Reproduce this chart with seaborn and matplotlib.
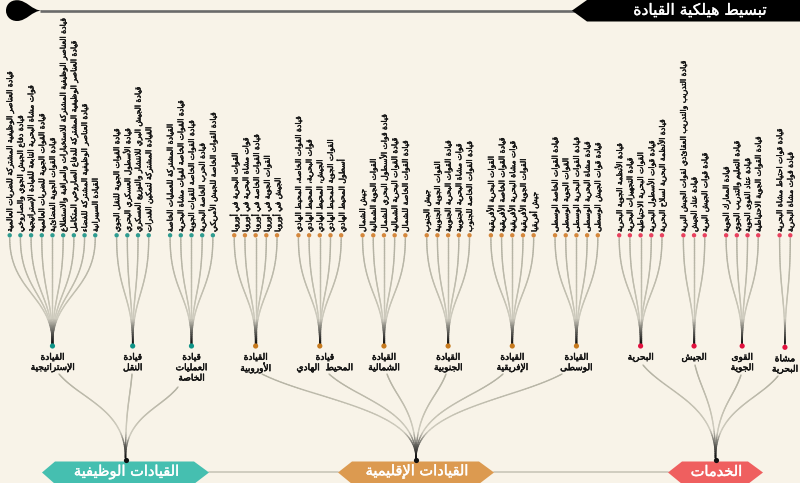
import numpy as np, pandas as pd
import matplotlib
matplotlib.use("Agg")
import matplotlib.pyplot as plt
import matplotlib.patheffects as pe
from matplotlib.collections import LineCollection
from matplotlib.colors import LinearSegmentedColormap
from matplotlib.patches import Polygon, PathPatch
from matplotlib.path import Path
import seaborn as sns

title = "تبسيط هيلكية القيادة"
branches = ["القيادات الوظيفية", "القيادات الإقليمية", "الخدمات"]
strategic = ["قيادة العناصر الوظيفية المشتركة للضربات العالمية", "قيادة دفاع الجيش الجوي والصاروخي",
             "قوات مشاة البحرية التابعة للقيادة الإستراتيجية", "قيادة القوات الجوية للضربات العالمية",
             "قيادة القوات الجوية الفضائية", "قيادة العناصر الوظيفية المشتركة للاستخبارات والمراقبة والاستطلاع",
             "قيادة العناصر الوظيفية المشتركة للدفاع الصاروخي المتكامل", "قيادة العناصر الوظيفية المشتركة للفضاء",
             "القيادة السيبرانية"]
transport = ["قيادة القوات الجوية للنقل الجوي", "قيادة الأسطول العسكري البحري",
             "قيادة الجيش البري للانتشار والتوزيع العسكري", "القيادة المشتركة لتمكين القدرات"]
special = ["القيادة المشتركة للعمليات الخاصة", "قيادة القوات الخاصة لقوات مشاة البحرية",
           "قيادة القوات الخاصة للقوات الجوية", "قيادة الحرب الخاصة البحرية", "قيادة القوات الخاصة للجيش الأمريكي"]
europe = ["القوات البحرية في أوروبا", "قوات مشاة البحرية في أوروبا", "قيادة القوات الخاصة في أوروبا",
          "القوات الجوية في أوروبا", "الجيش في أوروبا"]
pacific = ["قيادة القوات الخاصة، المحيط الهادي", "قوات البحرية، المحيط الهادي", "الجيش، المحيط الهادي",
           "القوات الجوية للمحيط الهادي", "أسطول المحيط الهادي"]
north = ["جيش الشمال", "القوات الجوية الشمالية", "قيادة قوات الأسطول البحري للشمال",
         "قيادة القوات البحرية الشمالية", "قيادة القوات الخاصة للشمال"]
south = ["جيش الجنوب", "القوات الجوية الجنوبية", "قيادة القوات البحرية الجنوبية",
         "قوات مشاة البحرية الجنوبية", "قيادة القوات الخاصة للجنوب"]
africa = ["القوات البحرية الأفريقية", "قيادة القوات الخاصة الأفريقية", "قوات مشاة البحرية الأفريقية",
          "القوات الجوية الأفريقية", "جيش أفريقيا"]
central = ["قيادة القوات الخاصة الوسطى", "القوات الجوية الوسطى", "قيادة القوات البحرية الوسطى",
           "قيادة مشاة البحرية الوسطى", "قيادة قوات الجيش الوسطى"]
navy = ["قيادة الأنظمة الجوية البحرية", "قيادة التجهيزات البحرية", "القوات البحرية الاحتياطية",
        "قيادة قوات الأسطول البحرية", "قيادة الأنظمة البحرية لسلاح البحرية"]
army = ["قيادة التدريب والتدريب العقائدي لقوات الجيش البرية", "قيادة عتاد الجيش", "قيادة قوات الجيش البرية"]
airforce = ["قيادة المعارك الجوية", "قيادة التعليم والتدريب الجوي", "قيادة عتاد القوى الجوية",
            "قيادة القوات الجوية الاحتياطية"]
marines = ["قيادة قوات احتياط مشاة البحرية", "قيادة قوات مشاة البحرية"]

groups = [
    ("القيادة\nالإستراتيجية", strategic, 0), ("قيادة\nالنقل", transport, 0), ("قيادة\nالعمليات\nالخاصة", special, 0),
    ("القيادة\nالأوروبية", europe, 1), ("قيادة\nالمحيط  الهادي", pacific, 1), ("القيادة\nالشمالية", north, 1),
    ("القيادة\nالجنوبية", south, 1), ("القيادة\nالإفريقية", africa, 1), ("القيادة\nالوسطى", central, 1),
    ("البحرية", navy, 2), ("الجيش", army, 2), ("القوى\nالجوية", airforce, 2), ("مشاة\nالبحرية", marines, 2),
]

# ---------- Arabic shaping (isolated, final, initial, medial) ----------
F = {'ء':(0xFE80,)*1, 'آ':(0xFE81,0xFE82), 'أ':(0xFE83,0xFE84), 'إ':(0xFE87,0xFE88), 'ا':(0xFE8D,0xFE8E),
     'ة':(0xFE93,0xFE94), 'د':(0xFEA9,0xFEAA), 'ذ':(0xFEAB,0xFEAC), 'ر':(0xFEAD,0xFEAE), 'ز':(0xFEAF,0xFEB0),
     'و':(0xFEED,0xFEEE), 'ى':(0xFEEF,0xFEF0)}
D = {'ب':0xFE8F,'ت':0xFE95,'ث':0xFE99,'ج':0xFE9D,'ح':0xFEA1,'خ':0xFEA5,'س':0xFEB1,'ش':0xFEB5,'ص':0xFEB9,
     'ض':0xFEBD,'ط':0xFEC1,'ظ':0xFEC5,'ع':0xFEC9,'غ':0xFECD,'ف':0xFED1,'ق':0xFED5,'ك':0xFED9,'ل':0xFEDD,
     'م':0xFEE1,'ن':0xFEE5,'ه':0xFEE9,'ي':0xFEF1}
LAM = {'ا':(0xFEFB,0xFEFC),'أ':(0xFEF7,0xFEF8),'إ':(0xFEF9,0xFEFA),'آ':(0xFEF5,0xFEF6)}

def shape(s):
    out, i = [], 0
    prev_joins = False
    while i < len(s):
        c = s[i]
        nxt = s[i + 1] if i + 1 < len(s) else ''
        if c == 'ل' and nxt in LAM:
            out.append(chr(LAM[nxt][1 if prev_joins else 0]))
            prev_joins = False
            i += 2
            continue
        if c in D:
            j = nxt in D or nxt in F and nxt != 'ء'
            base = D[c]
            out.append(chr(base + (3 if prev_joins and j else 1 if prev_joins else 2 if j else 0)))
            prev_joins = j
        elif c in F:
            forms = F[c]
            out.append(chr(forms[1] if prev_joins and len(forms) > 1 else forms[0]))
            prev_joins = False
        else:
            out.append(c)
            prev_joins = False
        i += 1
    return ''.join(reversed(out))

# ---------- style ----------
BG = "#f8f3e8"
DOT = ["#2f9c90", "#d4873c", "#e8415e"]
HEX = ["#45bfb0", "#dc9a50", "#ef5f5f"]
sns.set_theme(style="white", rc={"figure.facecolor": BG, "axes.facecolor": BG, "savefig.facecolor": BG})
plt.rcParams['font.family'] = ['DejaVu Sans']

fig, ax = plt.subplots(figsize=(8, 4.83), dpi=100)
ax.set_position([0, 0, 1, 1])
ax.set_xlim(0, 800); ax.set_ylim(483, 0); ax.axis("off")

def heavy(color, w):
    return [pe.withStroke(linewidth=w, foreground=color)]

def cubic(p0, p1, p2, p3, n=70):
    t = np.linspace(0, 1, n)[:, None]
    p0, p1, p2, p3 = map(np.array, (p0, p1, p2, p3))
    return (1-t)**3*p0 + 3*(1-t)**2*t*p1 + 3*(1-t)*t**2*p2 + t**3*p3

cmap = LinearSegmentedColormap.from_list("edge", [(0, "#b3b1a2"), (0.6, "#c4c1b2"), (0.8, "#cfccbf"), (1, "#151515")])

def draw_edge(pts, lw=1.0, z=2):
    segs = np.stack([pts[:-1], pts[1:]], axis=1)
    lc = LineCollection(segs, cmap=cmap, array=np.linspace(0, 1, len(segs)), linewidths=lw, zorder=z, capstyle="round")
    ax.add_collection(lc)

# ---------- layout from slots ----------
X0, PITCH = 9.7, 10.693
LEAF_Y, TOP_Y, GROUP_Y = 235.3, 238, 346
slot = 0
rows, grows = [], []
for name, leaves, br in groups:
    xs = X0 + PITCH * (slot + np.arange(len(leaves)))
    slot += len(leaves) + 1
    gx = xs.mean()
    grows.append((name, gx, br))
    for x, lab in zip(xs, leaves):
        rows.append((x, LEAF_Y, br))
        ax.text(x, 232, shape(lab), rotation=90, ha="center", va="bottom", fontsize=5.55,
                color="#111111", zorder=5, path_effects=heavy("#111111", 0.3))
        dy = GROUP_Y - 2 - TOP_Y
        draw_edge(cubic((x, TOP_Y), (x, TOP_Y + 0.50*dy), (gx, TOP_Y + 0.55*dy), (gx, GROUP_Y - 2)))

leaf_df = pd.DataFrame(rows, columns=["x", "y", "branch"])
group_df = pd.DataFrame([(g[1], GROUP_Y + (1.3 if g[0].startswith("مشاة") else 0), g[2]) for g in grows],
                        columns=["x", "y", "branch"])
pal = dict(enumerate(DOT))
sns.scatterplot(data=leaf_df, x="x", y="y", hue="branch", palette=pal, s=10, linewidth=0, legend=False, ax=ax, zorder=6)
sns.scatterplot(data=group_df, x="x", y="y", hue="branch", palette={0: "#0f9488", 1: "#c77a1e", 2: "#e2123f"},
                s=14, linewidth=0, legend=False, ax=ax, zorder=6)
ax.set_xlabel(""); ax.set_ylabel("")

# ---------- hexagons and roots ----------
hexes = [(42, 209, 13), (338, 494, 14), (668, 763, 14)]
roots = []
for (l, r, c), col, lab in zip(hexes, HEX, branches):
    my = 472.5
    ax.add_patch(Polygon([(l, my), (l+c, 461.5), (r-15, 461.5), (r, my), (r-15, 484), (l+c, 484)], closed=True,
                         fc=col, ec="none", zorder=4))
    ax.text((l+r)/2+1, 471.5, shape(lab), ha="center", va="center", fontsize=10.5, color="white", zorder=5,
            path_effects=heavy("white", 0.3))
    roots.append((l+r)/2)
ax.plot([209, 338], [472, 472], color="#cfccbf", lw=1.4, zorder=1)
ax.plot([494, 668], [472, 472], color="#cfccbf", lw=1.4, zorder=1)
sns.scatterplot(x=roots, y=[460]*3, color="#111111", s=14, linewidth=0, ax=ax, zorder=6, legend=False)

# ---------- group labels and connectors ----------
label_dx = {"قيادة\nالمحيط  الهادي": 5}
starts = [(59, 374), (132, 374), (178, 387), (262, 374), (329, 374), (387, 374), (446, 374), (503, 374), (562, 374),
          (643, 365), (695, 365), (741, 375), (778, 376)]
for (name, gx, br), st in zip(grows, starts):
    for i, line in enumerate(name.split("\n")):
        ax.text(gx + label_dx.get(name, 0), 357.3 + i*10.4 + (1.5 if name.startswith("مشاة") else 0),
                shape(line), ha="center", va="center", fontsize=6.5, color="#111111", zorder=5,
                path_effects=heavy("#111111", 0.35))
    rx = roots[br]
    dx, dy = rx - st[0], 458 - st[1]
    draw_edge(cubic(st, (st[0] + 0.32*dx, st[1] + 0.30*dy), (rx, st[1] + 0.42*dy), (rx, 458)))

# ---------- header ----------
ax.plot([40, 575], [10.6, 10.6], color="#6a6a6a", lw=1.9, zorder=2, solid_capstyle="butt")
verts = [(42, 10.6), (32, 10.6), (27, 0.2), (17, 0.2), (10, 0.2), (6, 5), (6, 10.6), (6, 16), (10, 21), (17, 21),
         (27, 21), (32, 10.6), (42, 10.6)]
codes = [Path.MOVETO] + [Path.CURVE4]*12
ax.add_patch(PathPatch(Path(verts, codes), fc="black", ec="none", zorder=3))
ax.add_patch(Polygon([(572, 10.6), (587, 0), (800, 0), (800, 21.5), (587, 21.5)], closed=True, fc="black", ec="none", zorder=3))
ax.text(700, 10.3, shape(title), ha="center", va="center", fontsize=11.2, color="white", zorder=5,
        path_effects=heavy("white", 0.25))

fig.savefig("out.png", dpi=100)
